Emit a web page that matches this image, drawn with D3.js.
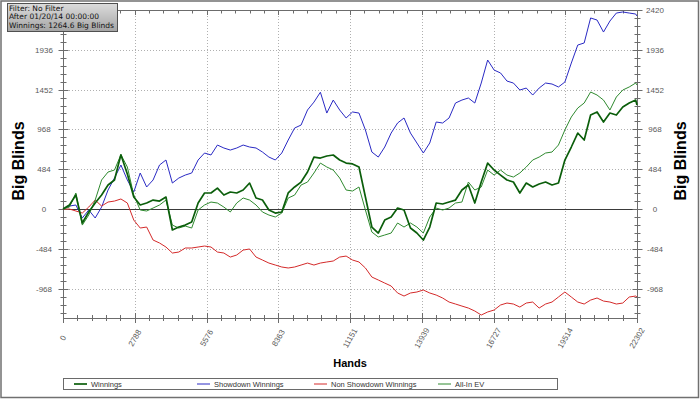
<!DOCTYPE html>
<html>
<head>
<meta charset="utf-8">
<script src="https://cdn.jsdelivr.net/npm/d3@7"></script>
<style>
  body { margin: 0; background: #fff; }
  svg { display: block; font-family: 'Liberation Sans', Arial, sans-serif; }
</style>
</head>
<body>
<div id="chart"></div>
<script>
const hands = [
  0, 250, 500, 750, 1000, 1250, 1500, 1750, 2000, 2250,
  2500, 2750, 3000, 3250, 3500, 3750, 4000, 4250, 4500, 4750,
  5000, 5250, 5500, 5750, 6000, 6250, 6500, 6750, 7000, 7250,
  7500, 7750, 8000, 8250, 8500, 8750, 9000, 9250, 9500, 9750,
  10000, 10250, 10500, 10750, 11000, 11250, 11500, 11750, 12000, 12250,
  12500, 12750, 13000, 13250, 13500, 13750, 14000, 14250, 14500, 14750,
  15000, 15250, 15500, 15750, 16000, 16250, 16500, 16750, 17000, 17250,
  17500, 17750, 18000, 18250, 18500, 18750, 19000, 19250, 19500, 19750,
  20000, 20250, 20500, 20750, 21000, 21250, 21500, 21750, 22000, 22250,
  22302
]

const winnings = [
  0, 49, 170, -170, -36, 73, 170, 292, 353, 660,
  426, 146, 49, 73, 109, 97, 146, -255, -219, -195,
  -158, 73, 195, 195, 255, 170, 207, 195, 231, 316,
  134, 109, -12, -49, -36, 195, 268, 328, 450, 632,
  620, 645, 657, 596, 559, 548, 511, 146, -219, -292,
  -134, -97, 12, -12, -231, -292, -377, -219, 73, 61,
  85, 109, 231, 292, 73, 328, 559, 474, 413, 353,
  328, 195, 316, 268, 304, 328, 292, 316, 596, 754,
  924, 839, 1143, 1180, 1058, 1167, 1143, 1240, 1289, 1325,
  1265
]

const showdownWinnings = [
  0, 36, 49, -109, -12, -109, 24, 231, 377, 535,
  353, 207, 438, 268, 353, 535, 596, 316, 377, 413,
  438, 596, 681, 657, 778, 742, 717, 742, 778, 754,
  742, 693, 632, 596, 681, 839, 985, 1021, 1204, 1300,
  1420, 1167, 1325, 1204, 1107, 1180, 1167, 961, 693, 632,
  754, 924, 1046, 1107, 924, 803, 681, 803, 1058, 1046,
  1107, 1289, 1325, 1350, 1289, 1532, 1812, 1690, 1654, 1556,
  1532, 1447, 1471, 1386, 1471, 1532, 1520, 1484, 1544, 1775,
  1994, 2019, 2323, 2298, 2152, 2286, 2383, 2396, 2383, 2371,
  2347
]

const nonShowdownWinnings = [
  0, 0, -24, -49, 24, 109, 36, 85, 97, 122,
  73, -134, -231, -219, -377, -413, -462, -535, -523, -474,
  -474, -462, -450, -462, -523, -535, -584, -559, -499, -486,
  -584, -620, -657, -681, -705, -717, -705, -681, -657, -681,
  -657, -644, -632, -584, -572, -620, -644, -717, -827, -863,
  -900, -936, -1021, -1058, -1021, -1009, -985, -1021, -1046, -1082,
  -1131, -1155, -1180, -1204, -1240, -1289, -1252, -1228, -1167, -1143,
  -1155, -1192, -1143, -1131, -1204, -1155, -1131, -1070, -1009, -1070,
  -1131, -1155, -1107, -1082, -1119, -1131, -1155, -1143, -1070, -1058,
  -1070
]

const allInEV = [
  0, 24, 195, -195, -73, 109, 353, 450, 474, 660,
  511, 170, -12, -24, 12, 49, 109, -195, -231, -207,
  -231, -12, 49, 85, 73, 24, -36, 73, 134, 109,
  49, -36, -73, -97, -49, 134, 170, 292, 328, 438,
  559, 511, 474, 377, 231, 219, 268, -12, -280, -340,
  -316, -292, -170, -219, -170, -219, -292, -97, 12, -12,
  12, 73, 85, 328, 231, 268, 474, 413, 474, 413,
  389, 438, 511, 596, 632, 681, 693, 778, 961, 1119,
  1228, 1289, 1423, 1386, 1325, 1204, 1362, 1447, 1484, 1532,
  1508
]

const xTicks = [0, 2788, 5576, 8363, 11151, 13939, 16727, 19514, 22302]
const yTicks = [-968, -484, 0, 484, 968, 1452, 1936, 2420]

const seriesNames = ['Winnings', 'Showdown Winnings', 'Non Showdown Winnings', 'All-In EV']
const infoLines = ['Filter: No Filter', 'After 01/20/14 00:00:00', 'Winnings: 1264.6 Big Blinds']

const width = 700
const height = 399
const plot = { left: 63, right: 637, top: 10, bottom: 318 }
const axisColor = '#6c6c6c'

const svg = d3.select('#chart')
  .append('svg')
  .attr('width', width)
  .attr('height', height)

svg.append('rect')
  .attr('x', 1)
  .attr('y', 1)
  .attr('width', width - 2.5)
  .attr('height', height - 2.5)
  .attr('fill', '#fff')
  .attr('stroke', '#707070')
  .attr('stroke-width', 1.5)

const x = d3.scaleLinear()
  .domain([0, 22302])
  .range([plot.left, plot.right])

const y = d3.scaleLinear()
  .domain([-1325, 2420])
  .range([plot.bottom, plot.top])

// dotted grid at the major ticks
const grid = svg.append('g')
  .attr('stroke', '#b0b0b0')
  .attr('stroke-width', 1)
  .attr('stroke-dasharray', '1,2')

grid.selectAll('line.v')
  .data(xTicks.slice(1, -1))
  .join('line')
    .attr('x1', d => Math.round(x(d)) + 0.5)
    .attr('x2', d => Math.round(x(d)) + 0.5)
    .attr('y1', plot.top)
    .attr('y2', plot.bottom)

grid.selectAll('line.h')
  .data(yTicks.filter(d => d !== 0 && d !== 2420))
  .join('line')
    .attr('x1', plot.left)
    .attr('x2', plot.right)
    .attr('y1', d => Math.round(y(d)) + 0.5)
    .attr('y2', d => Math.round(y(d)) + 0.5)

// zero line
svg.append('line')
  .attr('x1', plot.left)
  .attr('x2', plot.right)
  .attr('y1', Math.round(y(0)) + 0.5)
  .attr('y2', Math.round(y(0)) + 0.5)
  .attr('stroke', '#3a3a3a')
  .attr('stroke-width', 1)

// frame of the plot
const axes = svg.append('g')
  .attr('stroke', axisColor)
  .attr('stroke-width', 1)
  .attr('fill', 'none')

axes.append('rect')
  .attr('x', plot.left + 0.5)
  .attr('y', plot.top + 0.5)
  .attr('width', plot.right - plot.left)
  .attr('height', plot.bottom - plot.top)

const xStep = 22302 / 40
const xMinor = d3.range(0, 41).map(i => i * xStep)
const yStep = 484 / 5
const yMinor = d3.range(-13, 26).map(i => i * yStep).filter(d => d <= 2420)
const isMajorX = (i) => i % 5 === 0

// bottom and top ticks
axes.selectAll('line.bt')
  .data(xMinor)
  .join('line')
    .attr('x1', d => Math.round(x(d)) + 0.5)
    .attr('x2', d => Math.round(x(d)) + 0.5)
    .attr('y1', (d, i) => plot.bottom - (isMajorX(i) ? 5 : 3))
    .attr('y2', (d, i) => plot.bottom + (isMajorX(i) ? 5 : 3))

axes.selectAll('line.tt')
  .data(xMinor)
  .join('line')
    .attr('x1', d => Math.round(x(d)) + 0.5)
    .attr('x2', d => Math.round(x(d)) + 0.5)
    .attr('y1', plot.top)
    .attr('y2', (d, i) => plot.top + (isMajorX(i) ? 5 : 3.5))

// left and right ticks
for (const ax of [plot.left, plot.right]) {
  axes.append('g')
    .selectAll('line')
    .data(yMinor)
    .join('line')
      .attr('x1', d => ax + 0.5 - (Math.round(d / yStep) % 5 === 0 ? 5 : 3))
      .attr('x2', d => ax + 0.5 + (Math.round(d / yStep) % 5 === 0 ? 5 : 3))
      .attr('y1', d => Math.round(y(d)) + 0.5)
      .attr('y2', d => Math.round(y(d)) + 0.5)
}

// tick labels
const labelStyle = (sel) => sel
  .attr('font-size', 8)
  .attr('fill', '#5a5a5a')
  .attr('text-anchor', 'middle')

svg.append('g')
  .call(labelStyle)
  .selectAll('text')
  .data(yTicks.filter(d => d !== 2420))
  .join('text')
    .attr('x', 44)
    .attr('y', d => y(d) + 3)
    .text(d => d)

svg.append('g')
  .call(labelStyle)
  .selectAll('text')
  .data(yTicks)
  .join('text')
    .attr('x', 655)
    .attr('y', d => y(d) + 3)
    .text(d => d)

svg.append('g')
  .call(labelStyle)
  .selectAll('text')
  .data(xTicks)
  .join('text')
    .attr('transform', d => `translate(${x(d)}, 338) rotate(-60)`)
    .attr('dy', '0.35em')
    .text(d => d)

// axis titles
svg.append('text')
  .attr('transform', 'translate(24, 161) rotate(-90)')
  .attr('text-anchor', 'middle')
  .attr('font-size', 16)
  .attr('font-weight', 'bold')
  .text('Big Blinds')

svg.append('text')
  .attr('transform', 'translate(686, 161) rotate(-90)')
  .attr('text-anchor', 'middle')
  .attr('font-size', 16)
  .attr('font-weight', 'bold')
  .text('Big Blinds')

svg.append('text')
  .attr('x', 350)
  .attr('y', 367)
  .attr('text-anchor', 'middle')
  .attr('font-size', 11)
  .attr('font-weight', 'bold')
  .text('Hands')

// series
const series = [
  { name: seriesNames[1], values: showdownWinnings, color: '#2a2ac4', width: 1 },
  { name: seriesNames[2], values: nonShowdownWinnings, color: '#d42a2a', width: 1 },
  { name: seriesNames[3], values: allInEV, color: '#2f8a2f', width: 1 },
  { name: seriesNames[0], values: winnings, color: '#0b5e0b', width: 1.7 }
]

const line = d3.line()
  .x((d, i) => x(hands[i]))
  .y(d => y(d))

svg.append('g')
  .selectAll('path')
  .data(series)
  .join('path')
    .attr('d', d => line(d.values))
    .attr('fill', 'none')
    .attr('stroke', d => d.color)
    .attr('stroke-width', d => d.width)
    .attr('stroke-linejoin', 'round')

// legend
const legend = svg.append('g')

legend.append('rect')
  .attr('x', 63.5)
  .attr('y', 378.5)
  .attr('width', 494)
  .attr('height', 11)
  .attr('fill', '#fff')
  .attr('stroke', '#6a6a6a')

const legendItems = [
  { name: seriesNames[0], color: '#0b5e0b', width: 1.7, x: 74 },
  { name: seriesNames[1], color: '#2a2ac4', width: 1, x: 197 },
  { name: seriesNames[2], color: '#d42a2a', width: 1, x: 314 },
  { name: seriesNames[3], color: '#2f8a2f', width: 1, x: 438 }
]

const item = legend.selectAll('g')
  .data(legendItems)
  .join('g')
    .attr('transform', d => `translate(${d.x}, 384)`)

item.append('line')
  .attr('x1', 0)
  .attr('x2', 13)
  .attr('stroke', d => d.color)
  .attr('stroke-width', d => d.width)

item.append('text')
  .attr('x', 17)
  .attr('y', 2.6)
  .attr('font-size', 7.5)
  .attr('fill', '#333')
  .text(d => d.name)

// info box in the corner
const defs = svg.append('defs')
const grad = defs.append('linearGradient')
  .attr('id', 'infoFill')
  .attr('x1', 0).attr('y1', 0)
  .attr('x2', 0).attr('y2', 1)
grad.append('stop').attr('offset', '0%').attr('stop-color', '#dcdcdc')
grad.append('stop').attr('offset', '100%').attr('stop-color', '#a4a4a4')

svg.append('rect')
  .attr('x', 7.5)
  .attr('y', 3.5)
  .attr('width', 110)
  .attr('height', 28)
  .attr('fill', 'url(#infoFill)')
  .attr('stroke', '#505050')

svg.append('g')
  .selectAll('text')
  .data(infoLines)
  .join('text')
    .attr('x', 9)
    .attr('y', (d, i) => 11 + i * 8.4)
    .attr('font-family', "'DejaVu Sans', sans-serif")
    .attr('font-size', 7.5)
    .attr('fill', '#111')
    .text(d => d)
</script>
</body>
</html>
